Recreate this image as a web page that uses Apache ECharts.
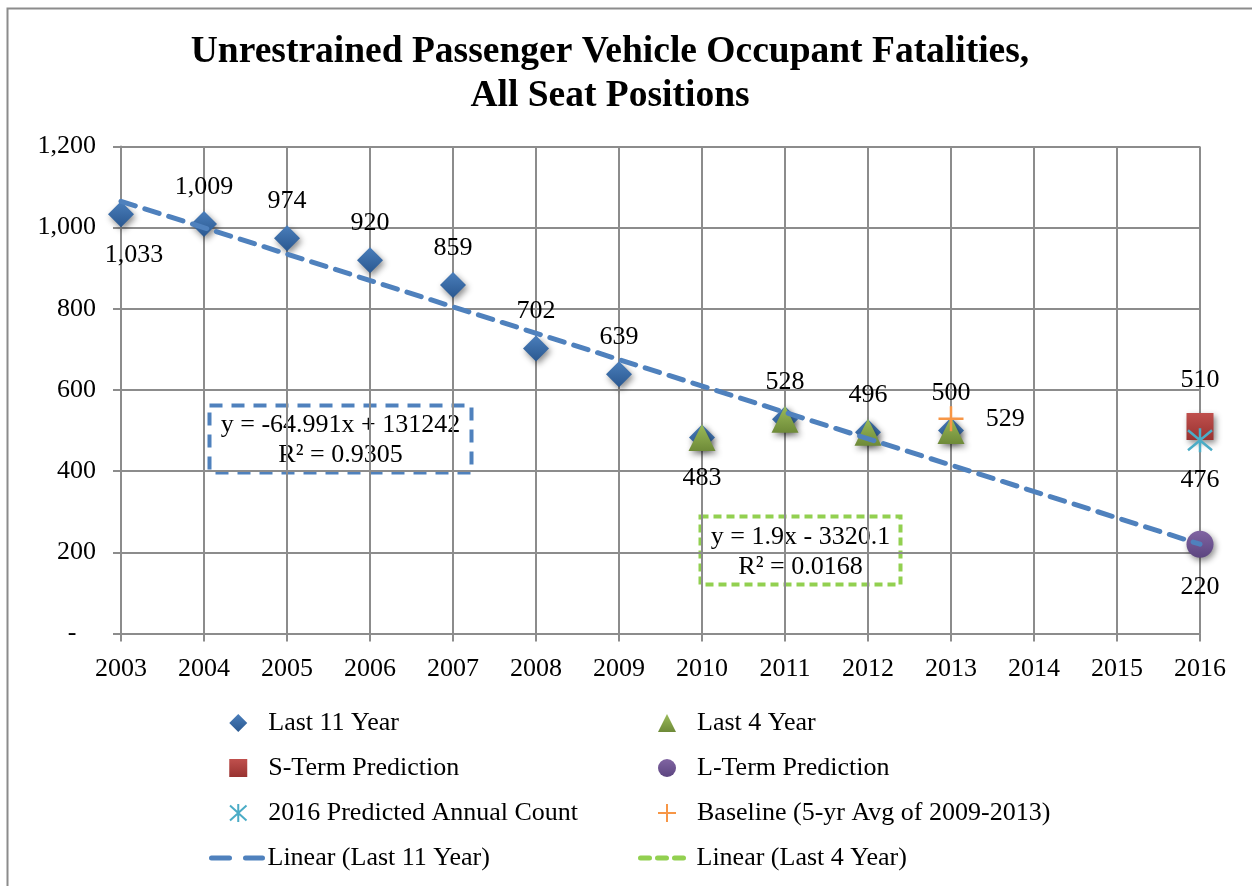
<!DOCTYPE html>
<html>
<head>
<meta charset="utf-8">
<title>Unrestrained Passenger Vehicle Occupant Fatalities</title>
<script src="https://cdn.jsdelivr.net/npm/echarts@6/dist/echarts.min.js"></script>
<style>
html, body { margin: 0; padding: 0; background: #fff; }
#chart { width: 1252px; height: 886px; }
</style>
</head>
<body>
<div id="chart"></div>
<script>
// data
var years11 = [2003, 2004, 2005, 2006, 2007, 2008, 2009, 2010, 2011, 2012, 2013];
var last11 = [1033, 1009, 974, 920, 859, 702, 639, 483, 528, 496, 500];
var years4 = [2010, 2011, 2012, 2013];
var last4 = [483, 528, 496, 500];
var sTerm = [[2016, 510]];
var lTerm = [[2016, 220]];
var predicted = [[2016, 476]];
var baseline = [[2013, 529]];
// trend line end points (Excel linear fit of the 11 years, carried to 2016)
var trend11 = [[2003, 1065], [2016, 220]];
// the 4-year fit is not visible on the plot, only in the legend
var trend4 = [];
var yTicks = [0, 200, 400, 600, 800, 1000, 1200];
var labelsBelow = [2003, 2010];

var FONT = '"Liberation Serif", "Times New Roman", serif';

function commas(v) {
	return String(v).replace(/\B(?=(\d{3})+(?!\d))/g, ',');
}

function grad(top, bottom) {
	return {
		type: 'linear', x: 0, y: 0, x2: 0, y2: 1,
		colorStops: [{offset: 0, color: top}, {offset: 1, color: bottom}]
	};
}

var shadow = {
	opacity: 1,
	shadowBlur: 6,
	shadowColor: 'rgba(0,0,0,0.45)',
	shadowOffsetX: 2,
	shadowOffsetY: 3
};

function pairs(xs, ys) {
	return xs.map(function (x, i) { return [x, ys[i]]; });
}

var label = {
	show: true,
	fontFamily: FONT,
	fontSize: 26,
	color: '#000',
	opacity: 1,
	formatter: function (p) { return commas(p.value[1]); }
};

var last11Data = pairs(years11, last11).map(function (d) {
	var below = labelsBelow.indexOf(d[0]) >= 0;
	var item = {value: d, label: {position: below ? 'bottom' : 'top', distance: below ? 15 : 11}};
	if (d[0] === 2003) item.label.offset = [13, 0];
	return item;
});

var noShadow = {shadowBlur: 0, shadowOffsetX: 0, shadowOffsetY: 0, shadowColor: 'transparent', opacity: 1};
var legendText = {fontFamily: FONT, fontSize: 26, color: '#000', lineHeight: 26};
var hiddenSymbol = {color: 'rgba(0,0,0,0)', borderWidth: 0, opacity: 0};

var option = {
	animation: false,
	backgroundColor: '#fff',
	title: {
		text: 'Unrestrained Passenger Vehicle Occupant Fatalities,\nAll Seat Positions',
		left: 610,
		textAlign: 'center',
		top: 30,
		padding: 0,
		textStyle: {fontFamily: FONT, fontSize: 37.5, fontWeight: 'bold', color: '#000', lineHeight: 44}
	},
	grid: {left: 121, right: 52, top: 146.5, bottom: 252.5},
	xAxis: {
		type: 'value',
		min: 2003,
		max: 2016,
		interval: 1,
		axisLine: {show: true, lineStyle: {color: '#8C8C8C', width: 2}},
		axisTick: {show: true, length: 8, lineStyle: {color: '#8C8C8C', width: 2}},
		splitLine: {show: true, lineStyle: {color: '#8C8C8C', width: 2}},
		axisLabel: {
			margin: 23,
			fontFamily: FONT, fontSize: 26, color: '#000',
			formatter: function (v) { return String(v); }
		}
	},
	yAxis: {
		type: 'value',
		min: yTicks[0],
		max: yTicks[yTicks.length - 1],
		interval: yTicks[1] - yTicks[0],
		axisLine: {show: true, lineStyle: {color: '#8C8C8C', width: 2}},
		axisTick: {show: true, length: 8, lineStyle: {color: '#8C8C8C', width: 2}},
		splitLine: {show: true, lineStyle: {color: '#8C8C8C', width: 2}},
		axisLabel: {
			margin: 25,
			fontFamily: FONT, fontSize: 26, color: '#000',
			formatter: function (v) { return v === 0 ? '-   ' : commas(v); }
		}
	},
	legend: [
		{
			data: ['Last 11 Year', 'S-Term Prediction', '2016 Predicted Annual Count'],
			orient: 'vertical', left: 229, top: 710, padding: 0,
			itemWidth: 18, itemHeight: 18, itemGap: 19,
			itemStyle: noShadow,
			textStyle: Object.assign({padding: [0, 0, 0, 16]}, legendText)
		},
		{
			data: ['Last 4 Year', 'L-Term Prediction', 'Baseline (5-yr Avg of 2009-2013)'],
			orient: 'vertical', left: 657, top: 710, padding: 0,
			itemWidth: 18, itemHeight: 18, itemGap: 19,
			itemStyle: noShadow,
			textStyle: Object.assign({padding: [0, 0, 0, 16]}, legendText)
		},
		{
			data: [{
				name: 'Linear (Last 11 Year)',
				itemStyle: hiddenSymbol,
				lineStyle: {color: '#4F81BD', width: 5, type: [18, 16], cap: 'round'}
			}],
			left: 209, top: 845, padding: 0,
			itemWidth: 51, itemHeight: 18,
			textStyle: legendText
		},
		{
			data: [{
				name: 'Linear (Last 4 Year)',
				itemStyle: hiddenSymbol,
				lineStyle: {color: '#92D050', width: 5, type: [9, 8], cap: 'round'}
			}],
			left: 638, top: 845, padding: 0,
			itemWidth: 51, itemHeight: 18,
			textStyle: legendText
		}
	],
	graphic: [
		// full chart frame
		{
			type: 'rect', left: 5, top: 6, silent: true,
			shape: {width: 1400, height: 1000},
			style: {fill: 'none', stroke: '#8C8C8C', lineWidth: 2}
		},
		// equation box, last 11 year fit
		{
			type: 'group', left: 207, top: 403, z: 20,
			children: [
				{
					type: 'rect', shape: {x: 0, y: 0, width: 262, height: 67},
					style: {fill: 'none', stroke: '#4F81BD', lineWidth: 4, lineDash: [13, 9]}
				},
				{
					type: 'text', x: 131, y: 35,
					style: {
						text: 'y = -64.991x + 131242\nR² = 0.9305',
						fontFamily: FONT, fontSize: 26, lineHeight: 30,
						fill: '#000', align: 'center', verticalAlign: 'middle'
					}
				}
			]
		},
		// equation box, last 4 year fit
		{
			type: 'group', left: 698, top: 514, z: 20,
			children: [
				{
					type: 'rect', shape: {x: 0, y: 0, width: 200, height: 68},
					style: {fill: 'none', stroke: '#92D050', lineWidth: 4, lineDash: [8, 5]}
				},
				{
					type: 'text', x: 100, y: 36,
					style: {
						text: 'y = 1.9x - 3320.1\nR² = 0.0168',
						fontFamily: FONT, fontSize: 26, lineHeight: 30,
						fill: '#000', align: 'center', verticalAlign: 'middle'
					}
				}
			]
		}
	],
	series: [
		{
			name: 'Last 11 Year', type: 'scatter', z: 3,
			symbol: 'diamond', symbolSize: 26,
			itemStyle: Object.assign({color: grad('#4A7EBB', '#2A5890')}, shadow),
			label: label,
			data: last11Data
		},
		{
			name: 'Last 4 Year', type: 'scatter', z: 4,
			symbol: 'triangle', symbolSize: 27,
			itemStyle: Object.assign({color: grad('#9BBB59', '#6E8A38')}, shadow),
			data: pairs(years4, last4)
		},
		{
			name: 'S-Term Prediction', type: 'scatter', z: 4,
			symbol: 'rect', symbolSize: 27,
			itemStyle: Object.assign({color: grad('#C0504D', '#983230')}, shadow),
			label: Object.assign({}, label, {position: 'top', distance: 20}),
			data: sTerm
		},
		{
			name: 'L-Term Prediction', type: 'scatter', z: 4,
			symbol: 'circle', symbolSize: 27,
			itemStyle: Object.assign({color: grad('#8064A2', '#5C4580')}, shadow),
			label: Object.assign({}, label, {position: 'bottom', distance: 16}),
			data: lTerm
		},
		{
			name: '2016 Predicted Annual Count', type: 'scatter', z: 5,
			symbol: 'path://M0,-12L0,12M-11,-10L11,10M-11,10L11,-10', symbolSize: 24,
			itemStyle: {color: 'rgba(0,0,0,0)', borderColor: '#4BACC6', borderWidth: 2.5, opacity: 1},
			label: Object.assign({}, label, {position: 'bottom', distance: 14}),
			data: predicted
		},
		{
			name: 'Baseline (5-yr Avg of 2009-2013)', type: 'scatter', z: 5,
			symbol: 'path://M-10,0L10,0M0,-10L0,10', symbolSize: 25,
			itemStyle: {color: 'rgba(0,0,0,0)', borderColor: '#F79646', borderWidth: 2.5, opacity: 1},
			label: Object.assign({}, label, {position: 'right', distance: 21}),
			data: baseline
		},
		{
			name: 'Linear (Last 11 Year)', type: 'line', z: 6,
			symbol: 'none', silent: true,
			lineStyle: {color: '#4F81BD', width: 5, type: [15, 10], cap: 'round'},
			itemStyle: {color: '#4F81BD'},
			data: trend11
		},
		{
			name: 'Linear (Last 4 Year)', type: 'line', z: 6,
			symbol: 'none', silent: true,
			lineStyle: {color: '#92D050', width: 5, type: [10, 8], cap: 'round'},
			itemStyle: {color: '#92D050'},
			data: trend4
		}
	]
};

var chart = echarts.init(document.getElementById('chart'));
chart.setOption(option);
</script>
</body>
</html>
